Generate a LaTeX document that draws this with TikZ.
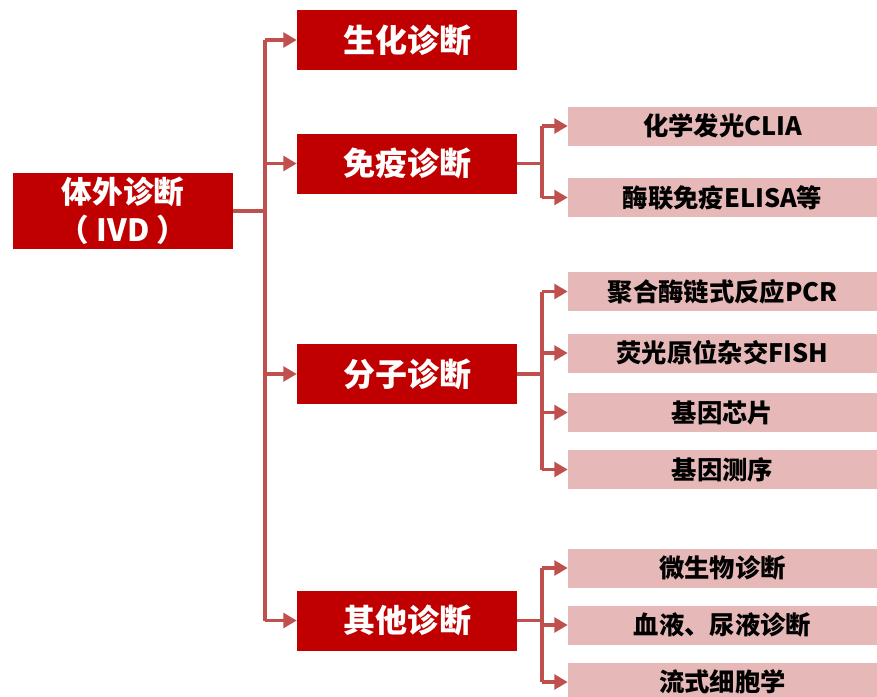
\documentclass[tikz,border=0pt]{standalone}
\usepackage{fontspec}
\newfontfamily\cjk{Noto Sans CJK SC}
\usetikzlibrary{arrows.meta}
\definecolor{dred}{HTML}{C00000}
\definecolor{lnk}{HTML}{C0504D}
\definecolor{pinkbox}{HTML}{E6B9B8}
\begin{document}
\begin{tikzpicture}[x=0.75pt,y=-0.75pt,
  rootbox/.style={fill=dred,text=white,minimum width=165pt,minimum height=57pt,inner sep=0pt,font=\cjk\bfseries\fontsize{23pt}{28pt}\selectfont,align=center},
  mainbox/.style={fill=dred,text=white,minimum width=165pt,minimum height=45pt,inner sep=0pt,font=\cjk\bfseries\fontsize{24pt}{28pt}\selectfont},
  subbox/.style={fill=pinkbox,text=black,minimum width=231.75pt,minimum height=29.25pt,inner sep=0pt,font=\cjk\bfseries\fontsize{19pt}{22pt}\selectfont},
  conn/.style={draw=lnk,line width=2.4pt},
  arr/.style={conn,-{Triangle[length=10pt,width=11pt]}}]
\useasboundingbox[fill=white] (0,0) rectangle (877,696);
\node[rootbox] (root) at (123,211) {体外诊断\\（ IVD ）};
\node[mainbox] (m1) at (407,40) {生化诊断};
\node[mainbox] (m2) at (407,163.5) {免疫诊断};
\node[mainbox] (m3) at (407,374) {分子诊断};
\node[mainbox] (m4) at (407,620.5) {其他诊断};
\node[subbox] (s1) at (722.5,126) {化学发光CLIA};
\node[subbox] (s2) at (722.5,197.5) {酶联免疫ELISA等};
\node[subbox] (s3) at (722.5,291.5) {聚合酶链式反应PCR};
\node[subbox] (s4) at (722.5,353) {荧光原位杂交FISH};
\node[subbox] (s5) at (722.5,412.5) {基因芯片};
\node[subbox] (s6) at (722.5,469.5) {基因测序};
\node[subbox] (s7) at (722.5,568) {微生物诊断};
\node[subbox] (s8) at (722.5,625) {血液、尿液诊断};
\node[subbox] (s9) at (722.5,682) {流式细胞学};
\coordinate (t0) at (265,0);
\coordinate (t1) at (542,0);
% trunk
\draw[conn] (root.east) -- (root.east -| t0);
\draw[conn] (t0 |- m1.west) -- (t0 |- m4.west);
\foreach \m in {m1,m2,m3,m4} \draw[arr] (t0 |- \m.west) -- (\m.west);
% immunology
\draw[conn] (m2.east) -- (m2.east -| t1);
\draw[conn] (t1 |- s1.west) -- (t1 |- s2.west);
\foreach \s in {s1,s2} \draw[arr] (t1 |- \s.west) -- (\s.west);
% molecular
\draw[conn] (m3.east) -- (m3.east -| t1);
\draw[conn] (t1 |- s3.west) -- (t1 |- s6.west);
\foreach \s in {s3,s4,s5,s6} \draw[arr] (t1 |- \s.west) -- (\s.west);
% others
\draw[conn] (m4.east) -- (m4.east -| t1);
\draw[conn] (t1 |- s7.west) -- (t1 |- s9.west);
\foreach \s in {s7,s8,s9} \draw[arr] (t1 |- \s.west) -- (\s.west);
\end{tikzpicture}
\end{document}
